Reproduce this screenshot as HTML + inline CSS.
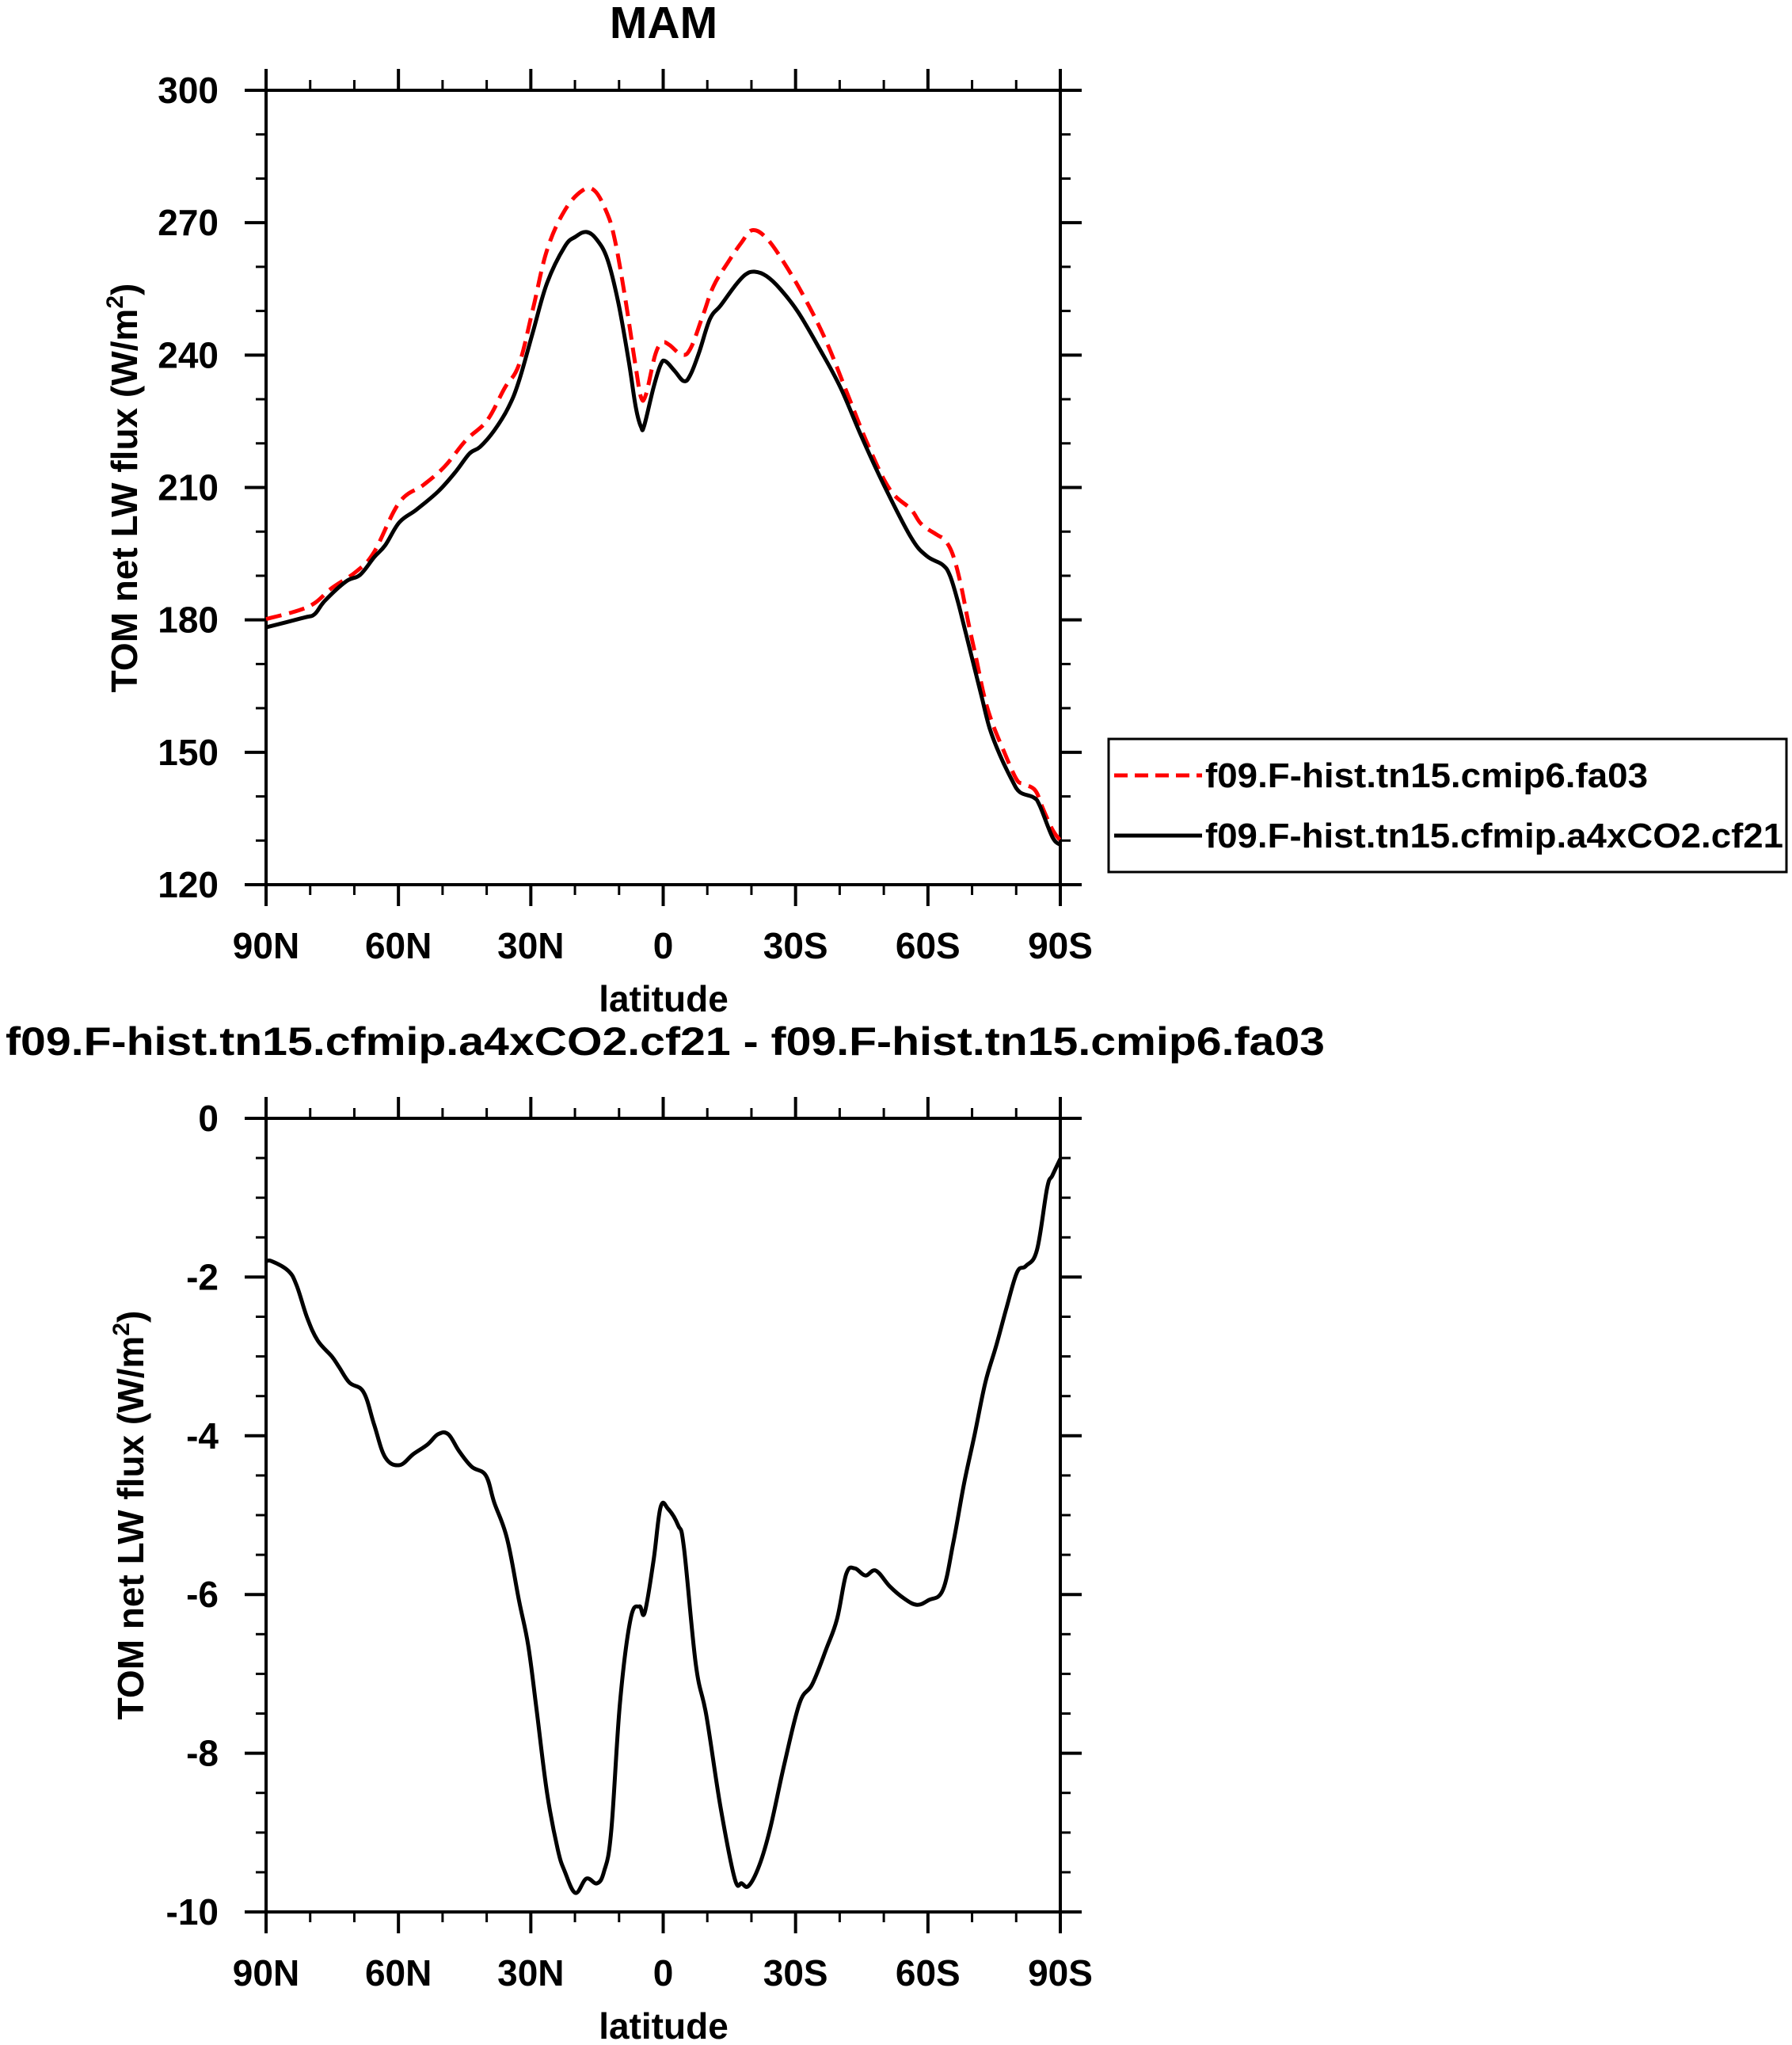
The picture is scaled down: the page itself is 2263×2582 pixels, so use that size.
<!DOCTYPE html>
<html><head><meta charset="utf-8"><style>
html,body{margin:0;padding:0;background:#fff;}
svg{display:block;font-family:"Liberation Sans",Arial,sans-serif;font-weight:bold;}
</style></head><body>
<svg id="chart" width="2263" height="2582" viewBox="0 0 2263 2582" xmlns="http://www.w3.org/2000/svg">
<g id="top"></g>
<g id="bot"></g>
<g id="legend">
  <rect x="1400" y="933" width="856" height="168" fill="#fff" stroke="#000" stroke-width="3"/>
  <line x1="1407" y1="979" x2="1518" y2="979" stroke="#ff0000" stroke-width="5" stroke-dasharray="17,9"/>
  <text x="1522" y="994" font-size="44" textLength="559" lengthAdjust="spacingAndGlyphs">f09.F-hist.tn15.cmip6.fa03</text>
  <line x1="1407" y1="1055" x2="1518" y2="1055" stroke="#000" stroke-width="5"/>
  <text x="1522" y="1070" font-size="44" textLength="730" lengthAdjust="spacingAndGlyphs">f09.F-hist.tn15.cfmip.a4xCO2.cf21</text>
</g>
</svg>
<script>
// top panel data
const latBlack = [90,81.5,79,76.7,71.9,68.7,65.5,63,59.8,55.9,51,47,43.9,41.5,38.3,35.1,32.7,29.5,26.3,22.3,19.9,17.4,15,12.6,10.2,7.8,6.2,5,4.3,2.2,0.6,-0.5,-2.6,-4.7,-6.2,-8.2,-10.6,-13,-16.2,-18.6,-20.7,-23.4,-26.6,-30.6,-35.4,-40.2,-45,-49.8,-56.1,-59.7,-63.3,-65.0,-66.8,-68.6,-70.4,-72.2,-74.0,-76.3,-78.9,-80.8,-83.9,-85.3,-88.2,-90];
const valBlack = [178.3,180.5,181.3,184.3,188.7,190.2,194.2,196.9,202.1,205,209.1,213.6,217.7,219.2,222.9,228.1,234.1,245.3,256.4,264.6,266.8,267.9,266.1,261.6,252,238.6,228.1,223.7,224,232.6,237.8,238.6,236.4,234.1,235.6,240.8,248.2,251.2,255.6,258.2,258.9,257.9,254.9,249.7,241.5,232.6,221.4,211,198.8,194.5,192.5,190.0,184.1,176.9,169.7,162.5,155.4,149.4,144.0,141.0,139.8,138.0,130.8,129];
const latRed = [90,83.1,79,75.1,69.5,65.5,59.8,54.3,49.5,44.7,39.9,35.9,32.7,29.5,26.3,22.3,18.3,15.6,13,11.1,8.7,6.2,5,3.9,1.8,0.2,-1.4,-4.2,-6.2,-9,-11.4,-14.6,-17.8,-20.2,-23.4,-27.4,-32.2,-37,-41.8,-46.6,-51.4,-56.1,-58.5,-62.0,-63.8,-65.6,-67.4,-69.2,-71.0,-72.8,-74.6,-77.1,-80.0,-81.7,-84.3,-86.0,-88.2,-90];
const valRed = [180.2,182,183.8,187.2,191,195.4,206.6,210.6,214.8,220.7,225.2,232.6,237.8,250.5,263.9,272.8,277.3,277.3,272.8,266.8,253.5,237.1,230.4,231.1,240.1,242.8,242.3,240.1,241.5,249,255.6,260.9,265.6,268.3,266.5,260.9,252.7,243,231.1,219.2,209.5,205.1,201.7,199.3,198.1,194.9,188.2,179.2,171.0,162.5,156.6,150.5,144.0,142.8,141.4,137.4,132.5,130];
const topTicks = [120,150,180,210,240,270,300];
// bottom panel data
const latDiff = [90,88.7,85,83.1,80.7,78.3,75.1,73.5,71.1,67.9,65.5,63,59.8,56.6,53.4,51,48.7,46.3,43.4,40.2,38.3,35.4,32.7,30.6,28.7,26.3,23.9,22.3,19.9,17.4,15,13.4,11.8,9.8,7.4,5.4,4.2,2.2,0.6,-1.1,-3.4,-4.7,-7.4,-9.8,-13,-16.2,-17.8,-19.4,-21.8,-24.2,-27.4,-30.9,-33.8,-37,-39.4,-41.5,-43.4,-45.8,-48.2,-51.4,-54.6,-57.5,-60.2,-63.4,-65.8,-68.2,-70.6,-73,-75.4,-77.8,-80.2,-82.2,-84.7,-87,-88.2,-90];
const valDiff = [-1.80,-1.80,-1.92,-2.1,-2.51,-2.80,-3.00,-3.13,-3.33,-3.45,-3.86,-4.27,-4.37,-4.23,-4.11,-3.98,-3.98,-4.19,-4.39,-4.50,-4.84,-5.29,-6.07,-6.64,-7.45,-8.51,-9.21,-9.49,-9.76,-9.58,-9.64,-9.49,-9.0,-7.37,-6.31,-6.15,-6.23,-5.58,-4.90,-4.92,-5.13,-5.41,-6.88,-7.53,-8.68,-9.58,-9.64,-9.67,-9.41,-8.96,-8.15,-7.37,-7.13,-6.68,-6.31,-5.74,-5.67,-5.76,-5.70,-5.90,-6.05,-6.13,-6.07,-5.94,-5.33,-4.60,-3.98,-3.33,-2.88,-2.39,-1.94,-1.86,-1.66,-0.88,-0.72,-0.51];
const botTicks = [-10,-8,-6,-4,-2,0];
const xTickLats = [90,60,30,0,-30,-60,-90];
const xTickLabels = ["90N","60N","30N","0","30S","60S","90S"];

const NS="http://www.w3.org/2000/svg";
const X0=336, X1=1339;
function xScale(lat){ return X0 + (90-lat)/180*(X1-X0); }
function mk(parent, tag, attrs, text){
  const e=document.createElementNS(NS,tag);
  for(const k in attrs) e.setAttribute(k,attrs[k]);
  if(text!==undefined) e.textContent=text;
  parent.appendChild(e); return e;
}
function panel(g, Y0, Y1, vmin, vmax, majors, minorStep, name){
  const yScale=v=> Y1 - (v-vmin)/(vmax-vmin)*(Y1-Y0);
  for(let lat=90; lat>=-90; lat-=10){
    const x=xScale(lat); const major = (lat%30===0);
    const L = major?27:13;
    const t1=mk(g,'line',{x1:x,y1:Y1,x2:x,y2:Y1+L,stroke:'#000','stroke-width':major?4:3});
    
    
    const t2=mk(g,'line',{x1:x,y1:Y0,x2:x,y2:Y0-L,stroke:'#000','stroke-width':major?4:3});
    
    
  }
  for(let v=vmin; v<=vmax+1e-9; v+=minorStep){
    const y=yScale(v); const major = majors.some(m=>Math.abs(m-v)<1e-6);
    const L = major?27:13;
    const t1=mk(g,'line',{x1:X0,y1:y,x2:X0-L,y2:y,stroke:'#000','stroke-width':major?4:3});
    
    
    const t2=mk(g,'line',{x1:X1,y1:y,x2:X1+L,y2:y,stroke:'#000','stroke-width':major?4:3});
    
    
  }
  majors.forEach(v=>{
    const t=mk(g,'text',{x:276,y:yScale(v)+16,'font-size':46,'text-anchor':'end'},String(v));
    
    
  });
  xTickLats.forEach((lat,i)=>{
    const t=mk(g,'text',{x:xScale(lat),y:Y1+93,'font-size':46,'text-anchor':'middle'},xTickLabels[i]);
    
    
  });
  const xt=mk(g,'text',{x:838,y:Y1+160,'font-size':46,'text-anchor':'middle'},'latitude');
  
  
  const frame=mk(g,'rect',{x:X0,y:Y0,width:X1-X0,height:Y1-Y0,fill:'none',stroke:'#000','stroke-width':4});
  
  
  return yScale;
}
function smoothPath(P){
  let d='M'+P[0][0].toFixed(1)+','+P[0][1].toFixed(1);
  for(let i=0;i<P.length-1;i++){
    const p0=P[Math.max(0,i-1)], p1=P[i], p2=P[i+1], p3=P[Math.min(P.length-1,i+2)];
    const t=0.18;
    const c1=[p1[0]+(p2[0]-p0[0])*t, p1[1]+(p2[1]-p0[1])*t];
    const c2=[p2[0]-(p3[0]-p1[0])*t, p2[1]-(p3[1]-p1[1])*t];
    d+=' C'+c1[0].toFixed(1)+','+c1[1].toFixed(1)+' '+c2[0].toFixed(1)+','+c2[1].toFixed(1)+' '+p2[0].toFixed(1)+','+p2[1].toFixed(1);
  }
  return d;
}
function series(g, lats, vals, ys, color, dash, nm){
  const P=lats.map((l,i)=>[xScale(l), ys(vals[i])]);
  const a={d:smoothPath(P),fill:'none',stroke:color,'stroke-width':5,'stroke-linejoin':'round','stroke-linecap':'butt'};
  if(dash) a['stroke-dasharray']=dash;
  const p=mk(g,'path',a);
  
  
}
function yTitle(g, cx, cy, nm){
  const t=mk(g,'text',{transform:`translate(${cx},${cy}) rotate(-90)`,'font-size':46,'text-anchor':'middle'});
  
  
  t.appendChild(document.createTextNode('TOM net LW flux (W/m'));
  mk(t,'tspan',{dy:-18,'font-size':30},'2');
  mk(t,'tspan',{dy:18},')');
}
const gT=document.getElementById('top'), gB=document.getElementById('bot');
const title=mk(gT,'text',{x:838,y:48,'font-size':57,'text-anchor':'middle'},'MAM');


const ysT=panel(gT,114,1117,120,300,topTicks,10,'top');
series(gT,latRed,valRed,ysT,'#ff0000','20,10','series-fa03');
series(gT,latBlack,valBlack,ysT,'#000','', 'series-cf21');
yTitle(gT,173,616,'top-y-axis-title');
const bt=mk(gB,'text',{x:840,y:1332,'font-size':50,'text-anchor':'middle',textLength:1666,lengthAdjust:'spacingAndGlyphs'},'f09.F-hist.tn15.cfmip.a4xCO2.cf21 - f09.F-hist.tn15.cmip6.fa03');


const ysB=panel(gB,1412,2414,-10,0,botTicks,0.5,'bottom');
series(gB,latDiff,valDiff,ysB,'#000','','series-difference');
yTitle(gB,181,1913,'bottom-y-axis-title');
</script>
</body></html>
